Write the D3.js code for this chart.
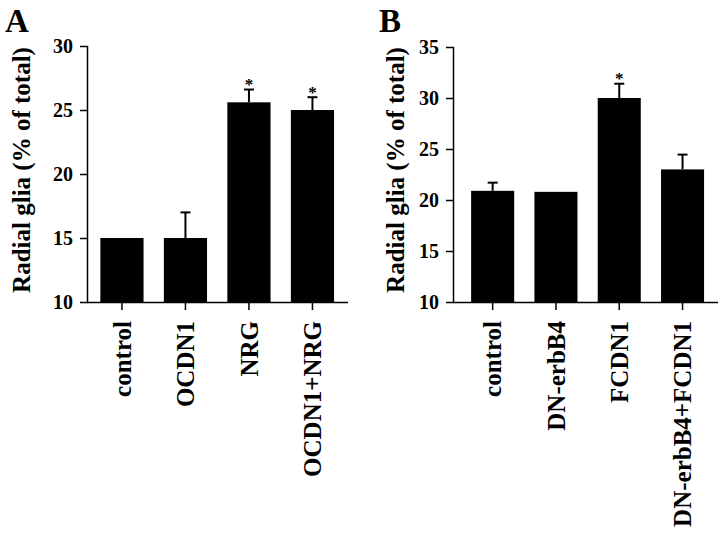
<!DOCTYPE html>
<html>
<head>
<meta charset="utf-8">
<script src="https://cdn.jsdelivr.net/npm/d3@7"></script>
<style>
  html, body { margin: 0; padding: 0; background: #fff; }
  svg { display: block; }
  text { font-family: "Liberation Serif", "Times New Roman", serif; font-weight: bold; fill: #000; }
</style>
</head>
<body>
<svg id="chart" width="720" height="534"></svg>
<script>
// Panel A data
const catsA = ["control", "OCDN1", "NRG", "OCDN1+NRG"];
const valsA = [15.0, 15.0, 25.6, 25.0];
const errA  = [0.0, 2.0, 1.0, 1.0];
const sigA  = [false, false, true, true];
const ticksA = [10, 15, 20, 25, 30];

// Panel B data
const catsB = ["control", "DN-erbB4", "FCDN1", "DN-erbB4+FCDN1"];
const valsB = [20.9, 20.8, 30.0, 23.0];
const errB  = [0.8, 0.0, 1.4, 1.45];
const sigB  = [false, false, true, false];
const ticksB = [10, 15, 20, 25, 30, 35];

const yLabel = "Radial glia (% of total)";

const svg = d3.select("#chart");

function panel(cfg) {
  const g = svg.append("g");
  const x = d3.scaleBand().domain(cfg.cats).range(cfg.xr).paddingInner(0.32).paddingOuter(0.16);
  const y = d3.scaleLinear().domain(cfg.yd).range(cfg.yr);

  // bars
  g.selectAll("rect.bar").data(cfg.cats).join("rect")
    .attr("x", d => x(d))
    .attr("width", x.bandwidth())
    .attr("y", (d, i) => y(cfg.vals[i]))
    .attr("height", (d, i) => y(cfg.yd[0]) - y(cfg.vals[i]))
    .attr("fill", "#000");

  // error bars and significance marks
  cfg.cats.forEach((c, i) => {
    const cx = x(c) + x.bandwidth() / 2;
    const top = y(cfg.vals[i] + cfg.err[i]);
    if (cfg.err[i] > 0) {
      g.append("line").attr("x1", cx).attr("x2", cx)
        .attr("y1", y(cfg.vals[i])).attr("y2", top)
        .attr("stroke", "#000").attr("stroke-width", 2);
      g.append("line").attr("x1", cx - 5).attr("x2", cx + 5)
        .attr("y1", top).attr("y2", top)
        .attr("stroke", "#000").attr("stroke-width", 2);
    }
    if (cfg.sig[i]) {
      g.append("text")
        .attr("x", cx)
        .attr("y", top + 0.5)
        .attr("text-anchor", "middle")
        .style("font-size", "17px")
        .text("*");
    }
  });

  // y axis
  const yAxis = d3.axisLeft(y).tickValues(cfg.ticks).tickSize(8).tickPadding(7);
  const ya = g.append("g").attr("transform", `translate(${cfg.ax},0)`).call(yAxis);
  ya.select(".domain").attr("stroke-width", 1.5).attr("d", `M-0.5,${cfg.yr[1]}V${cfg.yr[0]}`);
  ya.selectAll(".tick line").attr("stroke-width", 1.5);
  ya.selectAll(".tick text")
    .style("font-size", "20px")
    .style("font-family", "'Liberation Serif', serif")
    .style("font-weight", "bold");

  // x axis
  const xAxis = d3.axisBottom(x).tickSize(8).tickPadding(6);
  const xa = g.append("g").attr("transform", `translate(0,${cfg.yr[0]})`).call(xAxis);
  xa.select(".domain").attr("stroke-width", 1.5).attr("d", `M${cfg.ax - 1},0.5H${cfg.xend}`);
  xa.selectAll(".tick line").attr("stroke-width", 1.5);
  xa.selectAll(".tick text")
    .style("font-size", "25px")
    .style("font-family", "'Liberation Serif', serif")
    .style("font-weight", "bold")
    .attr("text-anchor", "end")
    .attr("transform", "rotate(-90)")
    .attr("x", -19).attr("y", 0).attr("dy", "0.35em");

  // y label
  g.append("text")
    .attr("transform", `translate(${cfg.lx},${cfg.ly}) rotate(-90)`)
    .attr("text-anchor", "middle")
    .style("font-size", "25px")
    .text(yLabel);

  // panel letter
  g.append("text").attr("x", cfg.px).attr("y", 32).style("font-size", "33px").text(cfg.letter);
}

panel({ cats: catsA, vals: valsA, err: errA, sig: sigA, ticks: ticksA,
        yd: [10, 30], yr: [302, 46], xr: [90.2, 344.2], ax: 88, xend: 348,
        lx: 30, ly: 170, px: 5, letter: "A" });
panel({ cats: catsB, vals: valsB, err: errB, sig: sigB, ticks: ticksB,
        yd: [10, 35], yr: [302, 47], xr: [461, 714.2], ax: 454, xend: 718,
        lx: 404, ly: 170, px: 379, letter: "B" });
</script>
</body>
</html>
